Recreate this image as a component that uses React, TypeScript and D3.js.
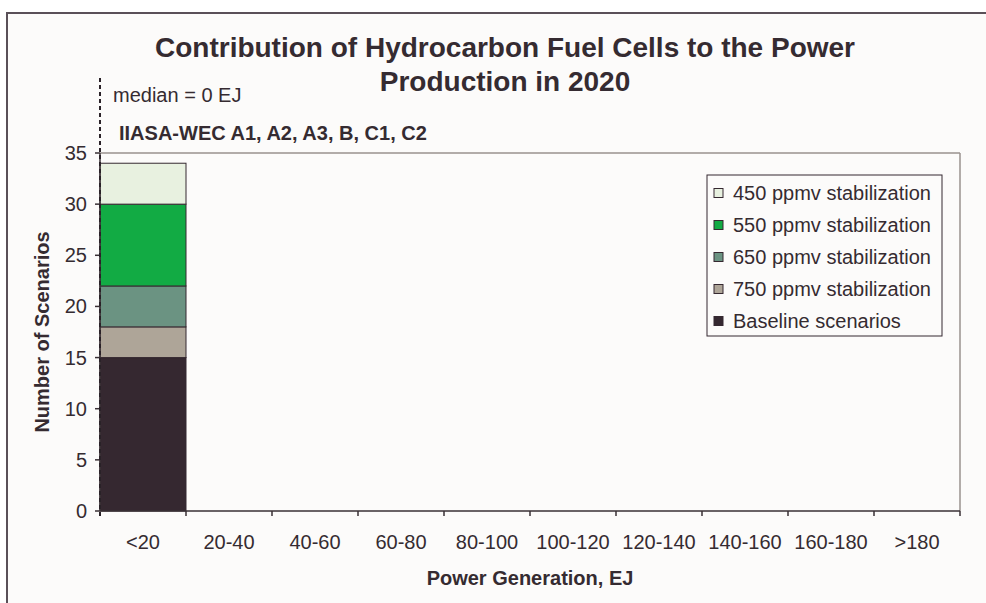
import React from "react";
import * as d3 from "d3";

const categories = ["<20", "20-40", "40-60", "60-80", "80-100", "100-120", "120-140", "140-160", "160-180", ">180"];
const baseline = [15, 0, 0, 0, 0, 0, 0, 0, 0, 0];
const ppmv750 = [3, 0, 0, 0, 0, 0, 0, 0, 0, 0];
const ppmv650 = [4, 0, 0, 0, 0, 0, 0, 0, 0, 0];
const ppmv550 = [8, 0, 0, 0, 0, 0, 0, 0, 0, 0];
const ppmv450 = [4, 0, 0, 0, 0, 0, 0, 0, 0, 0];
const seriesKeys = ["baseline", "ppmv750", "ppmv650", "ppmv550", "ppmv450"];
const seriesNames = ["Baseline scenarios", "750 ppmv stabilization", "650 ppmv stabilization", "550 ppmv stabilization", "450 ppmv stabilization"];
const seriesColors = ["#352830", "#aea598", "#6b9382", "#12ab44", "#e8f1e0"];
const yTicks = [0, 5, 10, 15, 20, 25, 30, 35];
const medianValue = 0;

const FONT = "'Liberation Sans', Arial, Helvetica, sans-serif";
const TXT = "#352b31";

export default function App() {
  const W = 986, H = 603;
  const left = 100, right = 960, top = 153, bottom = 511;
  const x = d3.scaleBand<string>().domain(categories).range([left, right]).padding(0);
  const y = d3.scaleLinear().domain([0, 35]).range([bottom, top]);
  const table = categories.map((c, i) => ({
    cat: c,
    baseline: baseline[i],
    ppmv750: ppmv750[i],
    ppmv650: ppmv650[i],
    ppmv550: ppmv550[i],
    ppmv450: ppmv450[i],
  }));
  const stacked = d3.stack<any>().keys(seriesKeys)(table);
  const xMedian = d3.scaleLinear().domain([0, 200]).range([left, right])(medianValue);
  const legendOrder = [4, 3, 2, 1, 0];

  return (
    <svg width={W} height={H} style={{ position: "absolute", left: 0, top: 0, background: "#ffffff" }} fontFamily={FONT}>
      <rect x={7} y={13} width={W + 20} height={H + 20} fill="#fcfbfa" stroke="#5a5058" strokeWidth={2} />
      <text x={505} y={47} textAnchor="middle" dominantBaseline="central" fontSize={28} fontWeight="bold" fill={TXT}>
        Contribution of Hydrocarbon Fuel Cells to the Power
      </text>
      <text x={505} y={81} textAnchor="middle" dominantBaseline="central" fontSize={28} fontWeight="bold" fill={TXT}>
        Production in 2020
      </text>
      <line x1={left} x2={right} y1={top} y2={top} stroke="#9a928e" strokeWidth={1.5} />
      <line x1={right} x2={right} y1={top} y2={bottom} stroke="#9a928e" strokeWidth={1.5} />
      {stacked.map((s, si) => (
        <g key={seriesKeys[si]}>
          {s.map((d: any, i: number) => {
            const h = y(d[0]) - y(d[1]);
            if (h <= 0) return null;
            return (
              <rect key={i} x={x(categories[i])!} y={y(d[1])} width={x.bandwidth()} height={h}
                fill={seriesColors[si]} stroke="#352830" strokeWidth={1} />
            );
          })}
        </g>
      ))}
      <line x1={left} x2={left} y1={top} y2={bottom} stroke="#3a3035" strokeWidth={1.5} />
      <line x1={left} x2={right} y1={bottom} y2={bottom} stroke="#3a3035" strokeWidth={1.5} />
      {yTicks.map((t) => (
        <g key={t}>
          <line x1={left - 5} x2={left} y1={y(t)} y2={y(t)} stroke="#3a3035" strokeWidth={1.5} />
          <text x={87} y={y(t)} textAnchor="end" dominantBaseline="central" fontSize={20} fill={TXT}>{t}</text>
        </g>
      ))}
      {categories.map((c) => (
        <g key={c}>
          <line x1={x(c)! + x.bandwidth()} x2={x(c)! + x.bandwidth()} y1={bottom} y2={bottom + 5} stroke="#3a3035" strokeWidth={1.5} />
          <text x={x(c)! + x.bandwidth() / 2} y={542} textAnchor="middle" dominantBaseline="central" fontSize={20} fill={TXT}>{c}</text>
        </g>
      ))}
      <text x={(left + right) / 2} y={578} textAnchor="middle" dominantBaseline="central" fontSize={20} fontWeight="bold" fill={TXT}>
        Power Generation, EJ
      </text>
      <text transform={`translate(42, ${(top + bottom) / 2}) rotate(-90)`} textAnchor="middle" dominantBaseline="central" fontSize={20} fontWeight="bold" fill={TXT}>
        Number of Scenarios
      </text>
      <line x1={xMedian} x2={xMedian} y1={78} y2={519} stroke="#2a2228" strokeWidth={2} strokeDasharray="4,3" />
      <text x={113} y={95} dominantBaseline="central" fontSize={20} fill={TXT}>median = 0 EJ</text>
      <text x={119} y={133} dominantBaseline="central" fontSize={20} fontWeight="bold" fill={TXT}>IIASA-WEC A1, A2, A3, B, C1, C2</text>
      <rect x={707} y={175} width={235} height={161} fill="#fcfbfa" stroke="#352830" strokeWidth={1} />
      {legendOrder.map((si, k) => (
        <g key={si}>
          <rect x={714} y={193 + k * 32 - 4.5} width={9} height={9} fill={seriesColors[si]} stroke="#352830" strokeWidth={1} />
          <text x={733} y={193 + k * 32} dominantBaseline="central" fontSize={20} fill={TXT}>{seriesNames[si]}</text>
        </g>
      ))}
    </svg>
  );
}
